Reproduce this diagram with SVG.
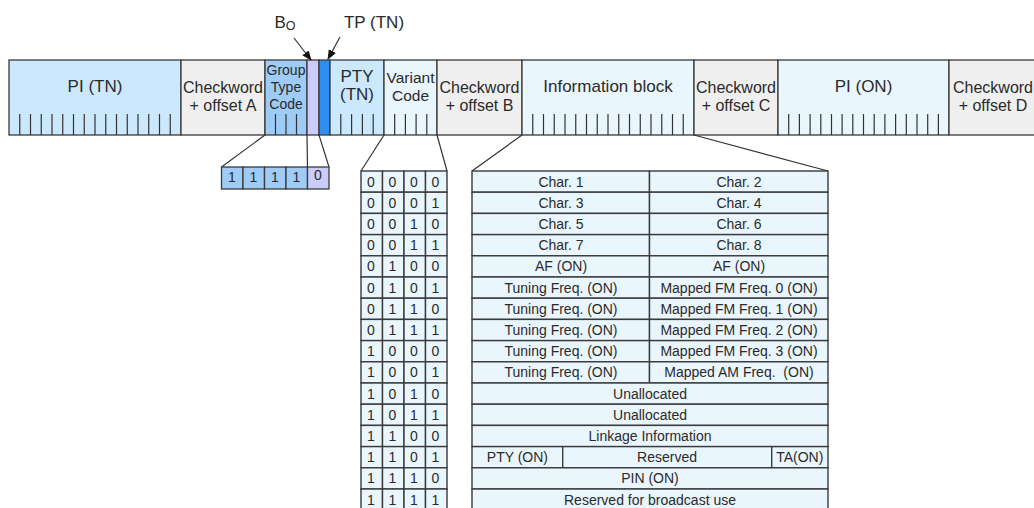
<svg xmlns="http://www.w3.org/2000/svg" width="1034" height="508" viewBox="0 0 1034 508">
<style>
text{font-family:"Liberation Sans",Arial,sans-serif;fill:#2a2a2a;text-anchor:middle}
.h{font-size:16px}
.L{font-size:17px}
.s{font-size:14px}
.t{font-size:14px}
.blk{stroke:#3a3a3a;stroke-width:1.3}
.cell{fill:#eaf6fe;stroke:#3a3a3a;stroke-width:1.4}
.tick{stroke:#333;stroke-width:1.2;fill:none}
.ln{stroke:#333;stroke-width:1.2;fill:none}
</style>
<defs>
<marker id="ah" markerWidth="10" markerHeight="10" refX="9" refY="5" orient="auto" markerUnits="userSpaceOnUse">
<path d="M0,1 L10,5 L0,9 z" fill="#111"/>
</marker>
</defs>
<rect width="1034" height="508" fill="#fff"/>

<g id="labels-top">
<text x="285" y="28" style="font-size:17px">B<tspan style="font-size:12.5px" dy="2">O</tspan></text>
<text x="374" y="28" class="L">TP (TN)</text>
</g>

<g id="pi-tn"><rect class="blk" x="9" y="60" width="172" height="75" fill="#cce8fc"/><text class="L" x="95" y="92">PI (TN)</text></g>
<g id="chk-a"><rect class="blk" x="181" y="60" width="84" height="75" fill="#efefef"/><text class="h" x="223" y="93">Checkword</text><text class="h" x="223" y="111">+ offset A</text></g>
<g id="gtc"><rect class="blk" x="265" y="60" width="42" height="75" fill="#9fcbf7"/><text class="s" x="286" y="75">Group</text><text class="s" x="286" y="92">Type</text><text class="s" x="286" y="109">Code</text></g>
<g id="b0"><rect class="blk" x="307" y="60" width="12" height="75" fill="#ccccfa"/></g>
<g id="tp"><rect class="blk" x="319" y="60" width="11" height="75" fill="#2f8ff0"/></g>
<g id="pty-tn"><rect class="blk" x="330" y="60" width="54" height="75" fill="#cce8fc"/><text class="L" x="357" y="82">PTY</text><text class="L" x="357" y="100">(TN)</text></g>
<g id="variant"><rect class="blk" x="384" y="60" width="53" height="75" fill="#eaf6fe"/><text x="410.5" y="83" style="font-size:15.5px">Variant</text><text x="410.5" y="101" style="font-size:15.5px">Code</text></g>
<g id="chk-b"><rect class="blk" x="437" y="60" width="85" height="75" fill="#efefef"/><text class="h" x="479.5" y="93">Checkword</text><text class="h" x="479.5" y="111">+ offset B</text></g>
<g id="info"><rect class="blk" x="522" y="60" width="172" height="75" fill="#eaf6fe"/><text class="L" x="608" y="91.5">Information block</text></g>
<g id="chk-c"><rect class="blk" x="694" y="60" width="84" height="75" fill="#efefef"/><text class="h" x="736" y="93">Checkword</text><text class="h" x="736" y="111">+ offset C</text></g>
<g id="pi-on"><rect class="blk" x="778" y="60" width="171" height="75" fill="#eaf6fe"/><text class="L" x="863.5" y="92">PI (ON)</text></g>
<g id="chk-d"><rect class="blk" x="949" y="60" width="100" height="75" fill="#efefef"/><text class="h" x="993" y="93">Checkword</text><text class="h" x="993" y="111">+ offset D</text></g>

<g id="ticks">
<path class="tick" d="M19.75,114V135M30.5,114V135M41.25,114V135M52,114V135M62.75,114V135M73.5,114V135M84.25,114V135M95,114V135M105.75,114V135M116.5,114V135M127.25,114V135M138,114V135M148.75,114V135M159.5,114V135M170.25,114V135"/>
<path class="tick" d="M275.5,114V135M286,114V135M296.5,114V135"/>
<path class="tick" d="M340.8,114V135M351.6,114V135M362.4,114V135M373.2,114V135"/>
<path class="tick" d="M394.7,114V135M405.4,114V135M416.1,114V135M426.8,114V135"/>
<path class="tick" d="M532.75,114V135M543.5,114V135M554.25,114V135M565,114V135M575.75,114V135M586.5,114V135M597.25,114V135M608,114V135M618.75,114V135M629.5,114V135M640.25,114V135M651,114V135M661.75,114V135M672.5,114V135M683.25,114V135"/>
<path class="tick" d="M788.7,114V135M799.4,114V135M810.1,114V135M820.8,114V135M831.5,114V135M842.1,114V135M852.8,114V135M863.5,114V135M874.2,114V135M884.9,114V135M895.6,114V135M906.3,114V135M917,114V135M927.7,114V135M938.4,114V135"/>
</g>

<g id="connectors">
<line class="ln" x1="294" y1="38" x2="311" y2="60" marker-end="url(#ah)"/>
<line class="ln" x1="340" y1="37" x2="328" y2="59" marker-end="url(#ah)"/>
<line class="ln" x1="265" y1="135" x2="221.5" y2="167"/>
<line class="ln" x1="307" y1="135" x2="307.5" y2="167"/>
<line class="ln" x1="319" y1="135" x2="329" y2="167"/>
<line class="ln" x1="384" y1="135" x2="361" y2="171"/>
<line class="ln" x1="437" y1="135" x2="447" y2="171"/>
<line class="ln" x1="522" y1="135" x2="472" y2="171"/>
<line class="ln" x1="694" y1="135" x2="828" y2="171"/>
</g>

<g id="gtc-bits">
<rect class="blk" x="221.5" y="167" width="21.5" height="22" fill="#9fcbf7"/>
<rect class="blk" x="243" y="167" width="21.5" height="22" fill="#9fcbf7"/>
<rect class="blk" x="264.5" y="167" width="21.5" height="22" fill="#9fcbf7"/>
<rect class="blk" x="286" y="167" width="21.5" height="22" fill="#9fcbf7"/>
<rect class="blk" x="307.5" y="167" width="21.5" height="22" fill="#ccccfa"/>
<text class="t" x="232" y="182">1</text><text class="t" x="253.5" y="182">1</text><text class="t" x="275" y="182">1</text><text class="t" x="296.5" y="182">1</text><text class="t" x="318" y="180">0</text>
</g>

<g id="variant-table">
<g id="vt-cells">
<rect class="cell" x="361" y="171" width="21.5" height="21.2"/><rect class="cell" x="382.5" y="171" width="21.5" height="21.2"/><rect class="cell" x="404" y="171" width="21.5" height="21.2"/><rect class="cell" x="425.5" y="171" width="21.5" height="21.2"/>
<rect class="cell" x="361" y="192.2" width="21.5" height="21.2"/><rect class="cell" x="382.5" y="192.2" width="21.5" height="21.2"/><rect class="cell" x="404" y="192.2" width="21.5" height="21.2"/><rect class="cell" x="425.5" y="192.2" width="21.5" height="21.2"/>
<rect class="cell" x="361" y="213.4" width="21.5" height="21.2"/><rect class="cell" x="382.5" y="213.4" width="21.5" height="21.2"/><rect class="cell" x="404" y="213.4" width="21.5" height="21.2"/><rect class="cell" x="425.5" y="213.4" width="21.5" height="21.2"/>
<rect class="cell" x="361" y="234.6" width="21.5" height="21.2"/><rect class="cell" x="382.5" y="234.6" width="21.5" height="21.2"/><rect class="cell" x="404" y="234.6" width="21.5" height="21.2"/><rect class="cell" x="425.5" y="234.6" width="21.5" height="21.2"/>
<rect class="cell" x="361" y="255.8" width="21.5" height="21.2"/><rect class="cell" x="382.5" y="255.8" width="21.5" height="21.2"/><rect class="cell" x="404" y="255.8" width="21.5" height="21.2"/><rect class="cell" x="425.5" y="255.8" width="21.5" height="21.2"/>
<rect class="cell" x="361" y="277" width="21.5" height="21.2"/><rect class="cell" x="382.5" y="277" width="21.5" height="21.2"/><rect class="cell" x="404" y="277" width="21.5" height="21.2"/><rect class="cell" x="425.5" y="277" width="21.5" height="21.2"/>
<rect class="cell" x="361" y="298.2" width="21.5" height="21.2"/><rect class="cell" x="382.5" y="298.2" width="21.5" height="21.2"/><rect class="cell" x="404" y="298.2" width="21.5" height="21.2"/><rect class="cell" x="425.5" y="298.2" width="21.5" height="21.2"/>
<rect class="cell" x="361" y="319.4" width="21.5" height="21.2"/><rect class="cell" x="382.5" y="319.4" width="21.5" height="21.2"/><rect class="cell" x="404" y="319.4" width="21.5" height="21.2"/><rect class="cell" x="425.5" y="319.4" width="21.5" height="21.2"/>
<rect class="cell" x="361" y="340.6" width="21.5" height="21.2"/><rect class="cell" x="382.5" y="340.6" width="21.5" height="21.2"/><rect class="cell" x="404" y="340.6" width="21.5" height="21.2"/><rect class="cell" x="425.5" y="340.6" width="21.5" height="21.2"/>
<rect class="cell" x="361" y="361.8" width="21.5" height="21.2"/><rect class="cell" x="382.5" y="361.8" width="21.5" height="21.2"/><rect class="cell" x="404" y="361.8" width="21.5" height="21.2"/><rect class="cell" x="425.5" y="361.8" width="21.5" height="21.2"/>
<rect class="cell" x="361" y="383" width="21.5" height="21.2"/><rect class="cell" x="382.5" y="383" width="21.5" height="21.2"/><rect class="cell" x="404" y="383" width="21.5" height="21.2"/><rect class="cell" x="425.5" y="383" width="21.5" height="21.2"/>
<rect class="cell" x="361" y="404.2" width="21.5" height="21.2"/><rect class="cell" x="382.5" y="404.2" width="21.5" height="21.2"/><rect class="cell" x="404" y="404.2" width="21.5" height="21.2"/><rect class="cell" x="425.5" y="404.2" width="21.5" height="21.2"/>
<rect class="cell" x="361" y="425.4" width="21.5" height="21.2"/><rect class="cell" x="382.5" y="425.4" width="21.5" height="21.2"/><rect class="cell" x="404" y="425.4" width="21.5" height="21.2"/><rect class="cell" x="425.5" y="425.4" width="21.5" height="21.2"/>
<rect class="cell" x="361" y="446.6" width="21.5" height="21.2"/><rect class="cell" x="382.5" y="446.6" width="21.5" height="21.2"/><rect class="cell" x="404" y="446.6" width="21.5" height="21.2"/><rect class="cell" x="425.5" y="446.6" width="21.5" height="21.2"/>
<rect class="cell" x="361" y="467.8" width="21.5" height="21.2"/><rect class="cell" x="382.5" y="467.8" width="21.5" height="21.2"/><rect class="cell" x="404" y="467.8" width="21.5" height="21.2"/><rect class="cell" x="425.5" y="467.8" width="21.5" height="21.2"/>
<rect class="cell" x="361" y="489" width="21.5" height="21.2"/><rect class="cell" x="382.5" y="489" width="21.5" height="21.2"/><rect class="cell" x="404" y="489" width="21.5" height="21.2"/><rect class="cell" x="425.5" y="489" width="21.5" height="21.2"/>
</g>
<g id="vt-text">
<text class="t" x="371" y="186.5">0</text><text class="t" x="392.5" y="186.5">0</text><text class="t" x="414" y="186.5">0</text><text class="t" x="435.5" y="186.5">0</text>
<text class="t" x="371" y="207.7">0</text><text class="t" x="392.5" y="207.7">0</text><text class="t" x="414" y="207.7">0</text><text class="t" x="435.5" y="207.7">1</text>
<text class="t" x="371" y="228.9">0</text><text class="t" x="392.5" y="228.9">0</text><text class="t" x="414" y="228.9">1</text><text class="t" x="435.5" y="228.9">0</text>
<text class="t" x="371" y="250.1">0</text><text class="t" x="392.5" y="250.1">0</text><text class="t" x="414" y="250.1">1</text><text class="t" x="435.5" y="250.1">1</text>
<text class="t" x="371" y="271.3">0</text><text class="t" x="392.5" y="271.3">1</text><text class="t" x="414" y="271.3">0</text><text class="t" x="435.5" y="271.3">0</text>
<text class="t" x="371" y="292.5">0</text><text class="t" x="392.5" y="292.5">1</text><text class="t" x="414" y="292.5">0</text><text class="t" x="435.5" y="292.5">1</text>
<text class="t" x="371" y="313.7">0</text><text class="t" x="392.5" y="313.7">1</text><text class="t" x="414" y="313.7">1</text><text class="t" x="435.5" y="313.7">0</text>
<text class="t" x="371" y="334.9">0</text><text class="t" x="392.5" y="334.9">1</text><text class="t" x="414" y="334.9">1</text><text class="t" x="435.5" y="334.9">1</text>
<text class="t" x="371" y="356.1">1</text><text class="t" x="392.5" y="356.1">0</text><text class="t" x="414" y="356.1">0</text><text class="t" x="435.5" y="356.1">0</text>
<text class="t" x="371" y="377.3">1</text><text class="t" x="392.5" y="377.3">0</text><text class="t" x="414" y="377.3">0</text><text class="t" x="435.5" y="377.3">1</text>
<text class="t" x="371" y="398.5">1</text><text class="t" x="392.5" y="398.5">0</text><text class="t" x="414" y="398.5">1</text><text class="t" x="435.5" y="398.5">0</text>
<text class="t" x="371" y="419.7">1</text><text class="t" x="392.5" y="419.7">0</text><text class="t" x="414" y="419.7">1</text><text class="t" x="435.5" y="419.7">1</text>
<text class="t" x="371" y="440.9">1</text><text class="t" x="392.5" y="440.9">1</text><text class="t" x="414" y="440.9">0</text><text class="t" x="435.5" y="440.9">0</text>
<text class="t" x="371" y="462.1">1</text><text class="t" x="392.5" y="462.1">1</text><text class="t" x="414" y="462.1">0</text><text class="t" x="435.5" y="462.1">1</text>
<text class="t" x="371" y="483.3">1</text><text class="t" x="392.5" y="483.3">1</text><text class="t" x="414" y="483.3">1</text><text class="t" x="435.5" y="483.3">0</text>
<text class="t" x="371" y="504.5">1</text><text class="t" x="392.5" y="504.5">1</text><text class="t" x="414" y="504.5">1</text><text class="t" x="435.5" y="504.5">1</text>
</g>
</g>

<g id="info-table">
<g id="it-cells">
<rect class="cell" x="472" y="171" width="177.5" height="21.2"/><rect class="cell" x="649.5" y="171" width="178.5" height="21.2"/>
<rect class="cell" x="472" y="192.2" width="177.5" height="21.2"/><rect class="cell" x="649.5" y="192.2" width="178.5" height="21.2"/>
<rect class="cell" x="472" y="213.4" width="177.5" height="21.2"/><rect class="cell" x="649.5" y="213.4" width="178.5" height="21.2"/>
<rect class="cell" x="472" y="234.6" width="177.5" height="21.2"/><rect class="cell" x="649.5" y="234.6" width="178.5" height="21.2"/>
<rect class="cell" x="472" y="255.8" width="177.5" height="21.2"/><rect class="cell" x="649.5" y="255.8" width="178.5" height="21.2"/>
<rect class="cell" x="472" y="277" width="177.5" height="21.2"/><rect class="cell" x="649.5" y="277" width="178.5" height="21.2"/>
<rect class="cell" x="472" y="298.2" width="177.5" height="21.2"/><rect class="cell" x="649.5" y="298.2" width="178.5" height="21.2"/>
<rect class="cell" x="472" y="319.4" width="177.5" height="21.2"/><rect class="cell" x="649.5" y="319.4" width="178.5" height="21.2"/>
<rect class="cell" x="472" y="340.6" width="177.5" height="21.2"/><rect class="cell" x="649.5" y="340.6" width="178.5" height="21.2"/>
<rect class="cell" x="472" y="361.8" width="177.5" height="21.2"/><rect class="cell" x="649.5" y="361.8" width="178.5" height="21.2"/>
<rect class="cell" x="472" y="383" width="356" height="21.2"/>
<rect class="cell" x="472" y="404.2" width="356" height="21.2"/>
<rect class="cell" x="472" y="425.4" width="356" height="21.2"/>
<rect class="cell" x="472" y="446.6" width="90.7" height="21.2"/><rect class="cell" x="562.7" y="446.6" width="209" height="21.2"/><rect class="cell" x="771.7" y="446.6" width="56.3" height="21.2"/>
<rect class="cell" x="472" y="467.8" width="356" height="21.2"/>
<rect class="cell" x="472" y="489" width="356" height="21.2"/>
</g>
<g id="it-text">
<text class="t" x="561" y="186.5">Char. 1</text><text class="t" x="739" y="186.5">Char. 2</text>
<text class="t" x="561" y="207.7">Char. 3</text><text class="t" x="739" y="207.7">Char. 4</text>
<text class="t" x="561" y="228.9">Char. 5</text><text class="t" x="739" y="228.9">Char. 6</text>
<text class="t" x="561" y="250.1">Char. 7</text><text class="t" x="739" y="250.1">Char. 8</text>
<text class="t" x="561" y="271.3">AF (ON)</text><text class="t" x="739" y="271.3">AF (ON)</text>
<text class="t" x="561" y="292.5">Tuning Freq. (ON)</text><text class="t" x="739" y="292.5">Mapped FM Freq. 0 (ON)</text>
<text class="t" x="561" y="313.7">Tuning Freq. (ON)</text><text class="t" x="739" y="313.7">Mapped FM Freq. 1 (ON)</text>
<text class="t" x="561" y="334.9">Tuning Freq. (ON)</text><text class="t" x="739" y="334.9">Mapped FM Freq. 2 (ON)</text>
<text class="t" x="561" y="356.1">Tuning Freq. (ON)</text><text class="t" x="739" y="356.1">Mapped FM Freq. 3 (ON)</text>
<text class="t" x="561" y="377.3">Tuning Freq. (ON)</text><text class="t" x="739" y="377.3">Mapped AM Freq.&#160; (ON)</text>
<text class="t" x="650" y="398.5">Unallocated</text>
<text class="t" x="650" y="419.7">Unallocated</text>
<text class="t" x="650" y="440.9">Linkage Information</text>
<text class="t" x="517.4" y="462.1">PTY (ON)</text><text class="t" x="667" y="462.1">Reserved</text><text class="t" x="799.8" y="462.1">TA(ON)</text>
<text class="t" x="650" y="483.3">PIN (ON)</text>
<text class="t" x="650" y="504.5">Reserved for broadcast use</text>
</g>
</g>
</svg>
